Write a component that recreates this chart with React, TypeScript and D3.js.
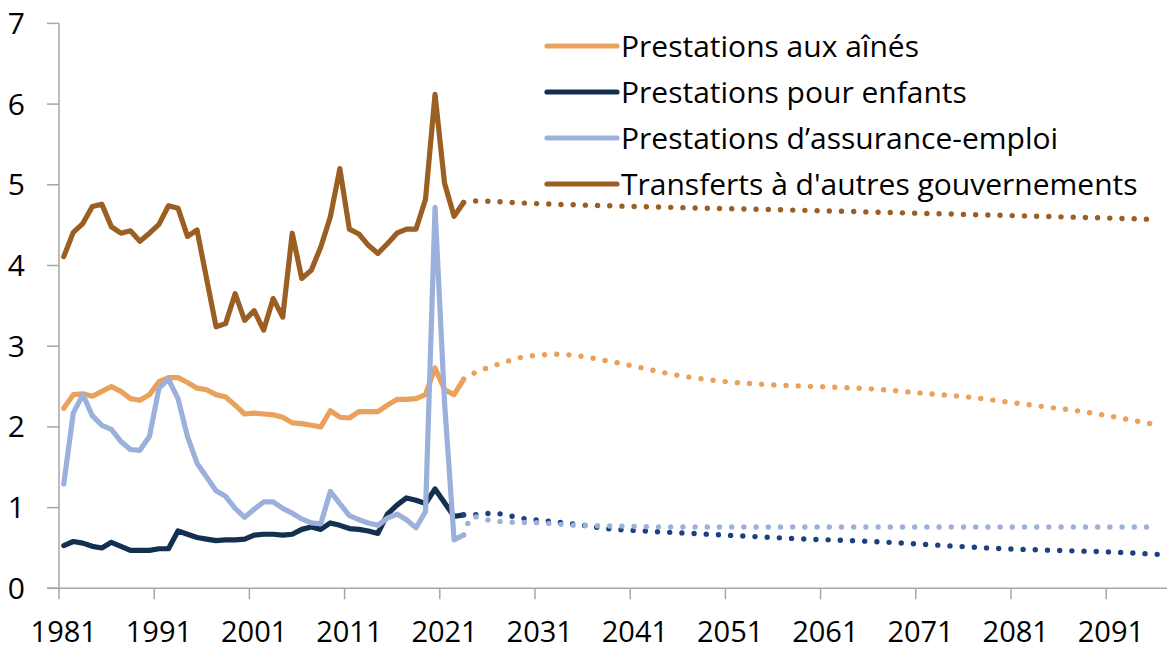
import React from 'react';
import * as d3 from 'd3';

// ---------- DATA ----------
const START_YEAR = 1981;

// Historical values (% of GDP), 1981–2023
const seniorsHist = [
  2.23, 2.40, 2.41, 2.38, 2.44, 2.50, 2.44, 2.35, 2.33, 2.40,
  2.56, 2.61, 2.61, 2.55, 2.48, 2.46, 2.40, 2.37, 2.27, 2.16,
  2.17, 2.16, 2.15, 2.12, 2.05, 2.04, 2.02, 2.00, 2.20, 2.12,
  2.11, 2.19, 2.19, 2.19, 2.27, 2.34, 2.34, 2.35, 2.40, 2.73,
  2.46, 2.40, 2.59,
];
const childrenHist = [
  0.53, 0.58, 0.56, 0.52, 0.50, 0.57, 0.52, 0.47, 0.47, 0.47,
  0.49, 0.49, 0.71, 0.67, 0.63, 0.61, 0.59, 0.60, 0.60, 0.61,
  0.66, 0.67, 0.67, 0.66, 0.67, 0.73, 0.76, 0.73, 0.81, 0.78,
  0.74, 0.73, 0.71, 0.68, 0.92, 1.03, 1.12, 1.09, 1.05, 1.23,
  1.06, 0.89, 0.91,
];
const eiHist = [
  1.29, 2.17, 2.40, 2.14, 2.02, 1.97, 1.82, 1.72, 1.71, 1.88,
  2.48, 2.59, 2.35, 1.88, 1.55, 1.38, 1.21, 1.14, 0.99, 0.88,
  0.98, 1.07, 1.07, 0.99, 0.93, 0.86, 0.81, 0.80, 1.20, 1.05,
  0.90, 0.85, 0.81, 0.78, 0.87, 0.92, 0.85, 0.75, 0.95, 4.72,
  2.30, 0.60, 0.66,
];
const transfersHist = [
  4.11, 4.41, 4.52, 4.73, 4.76, 4.48, 4.40, 4.43, 4.30, 4.40,
  4.51, 4.74, 4.71, 4.36, 4.44, 3.84, 3.24, 3.28, 3.65, 3.32,
  3.44, 3.20, 3.59, 3.36, 4.40, 3.84, 3.94, 4.23, 4.60, 5.20,
  4.45, 4.39, 4.25, 4.15, 4.27, 4.40, 4.45, 4.45, 4.82, 6.12,
  5.02, 4.61, 4.78,
];

// Projections [year, value]
const seniorsProj: [number, number][] = [
  [2023, 2.59], [2024, 2.66], [2025, 2.71], [2027, 2.79], [2029, 2.86],
  [2031, 2.89], [2033, 2.90], [2035, 2.88], [2038, 2.82], [2041, 2.75],
  [2045, 2.65], [2049, 2.58], [2054, 2.53], [2060, 2.50], [2066, 2.47],
  [2071, 2.42], [2076, 2.37], [2080, 2.31], [2084, 2.25], [2088, 2.19],
  [2092, 2.11], [2096, 2.02],
];
const childrenProj: [number, number][] = [
  [2023, 0.91], [2024, 0.91], [2026, 0.93], [2027, 0.92], [2029, 0.87],
  [2032, 0.83], [2035, 0.79], [2038, 0.74], [2042, 0.71], [2047, 0.68],
  [2052, 0.65], [2059, 0.61], [2066, 0.58], [2072, 0.54], [2078, 0.50],
  [2085, 0.47], [2091, 0.45], [2096, 0.42],
];
const eiProj: [number, number][] = [
  [2023, 0.66], [2024, 0.89], [2025, 0.86], [2028, 0.82], [2031, 0.81],
  [2035, 0.78], [2040, 0.77], [2045, 0.76], [2060, 0.76], [2080, 0.76],
  [2096, 0.76],
];
const transfersProj: [number, number][] = [
  [2023, 4.78], [2024, 4.80], [2030, 4.77], [2045, 4.72], [2060, 4.68],
  [2070, 4.65], [2080, 4.62], [2090, 4.59], [2096, 4.57],
];

const xTickYears = [1981, 1991, 2001, 2011, 2021, 2031, 2041, 2051, 2061, 2071, 2081, 2091];
const yTicks = [0, 1, 2, 3, 4, 5, 6, 7];

const seriesNames = [
  'Prestations aux aînés',
  'Prestations pour enfants',
  'Prestations d\u2019assurance-emploi',
  "Transferts à d'autres gouvernements",
];
const seriesColors = ['#E9A15B', '#13304F', '#9BB1DB', '#9B5E23'];
const projColors = ['#E9A15B', '#1C4180', '#9BB1DB', '#9B5E23'];

// ---------- LAYOUT ----------
const W = 1167;
const H = 650;
const FONT = '"Open Sans", sans-serif';

export default function App() {
  const x = d3.scaleLinear().domain([1980.5, 2096.5]).range([59, 1163.3]);
  const y = d3.scaleLinear().domain([0, 7]).range([588.3, 23.4]);

  const line = d3
    .line<[number, number]>()
    .x((d) => x(d[0]))
    .y((d) => y(d[1]));
  const smooth = d3
    .line<[number, number]>()
    .x((d) => x(d[0]))
    .y((d) => y(d[1]))
    .curve(d3.curveMonotoneX);

  const toPairs = (arr: number[]) => arr.map((v, i) => [START_YEAR + i, v] as [number, number]);
  const hist = [seniorsHist, childrenHist, eiHist, transfersHist].map(toPairs);
  const proj = [seniorsProj, childrenProj, eiProj, transfersProj];

  const axisColor = '#A6A6A6';
  const legendY = [46, 92, 138, 184];

  return (
    <svg
      width={W}
      height={H}
      style={{ position: 'absolute', left: 0, top: 0, background: '#fff' }}
      fontFamily={FONT}
    >
      <rect x={0} y={0} width={W} height={H} fill="#fff" />
      {/* axes */}
      <line x1={59} x2={59} y1={y(7)} y2={y(0)} stroke={axisColor} strokeWidth={1.5} />
      {yTicks.map((t) => (
        <g key={t}>
          <line x1={47} x2={59} y1={y(t)} y2={y(t)} stroke={axisColor} strokeWidth={1.5} />
          <text x={25} y={y(t)} dy="0.35em" textAnchor="end" fontSize={30} fill="#000">
            {t}
          </text>
        </g>
      ))}
      <line x1={47} x2={W} y1={y(0)} y2={y(0)} stroke={axisColor} strokeWidth={1.5} />
      {xTickYears.map((yr) => (
        <g key={yr}>
          <line x1={x(yr - 0.5)} x2={x(yr - 0.5)} y1={y(0)} y2={y(0) + 11} stroke={axisColor} strokeWidth={1.5} />
          <text x={x(yr)} y={642} textAnchor="middle" fontSize={29} fill="#000">
            {yr}
          </text>
        </g>
      ))}

      {/* historical lines */}
      {hist.map((d, i) => (
        <path
          key={'h' + i}
          d={line(d) || ''}
          fill="none"
          stroke={seriesColors[i]}
          strokeWidth={5.2}
          strokeLinejoin="round"
          strokeLinecap="round"
        />
      ))}
      {/* projections */}
      {proj.map((d, i) => (
        <path
          key={'p' + i}
          d={smooth(d) || ''}
          fill="none"
          stroke={projColors[i]}
          strokeWidth={5.4}
          strokeDasharray="0 12.2"
          strokeLinecap="round"
        />
      ))}

      {/* legend */}
      {seriesNames.map((name, i) => (
        <g key={name}>
          <line
            x1={547}
            x2={617}
            y1={legendY[i]}
            y2={legendY[i]}
            stroke={seriesColors[i]}
            strokeWidth={5.2}
            strokeLinecap="round"
          />
          <text x={621} y={legendY[i] + 11} fontSize={30} fill="#000">
            {name}
          </text>
        </g>
      ))}
    </svg>
  );
}
